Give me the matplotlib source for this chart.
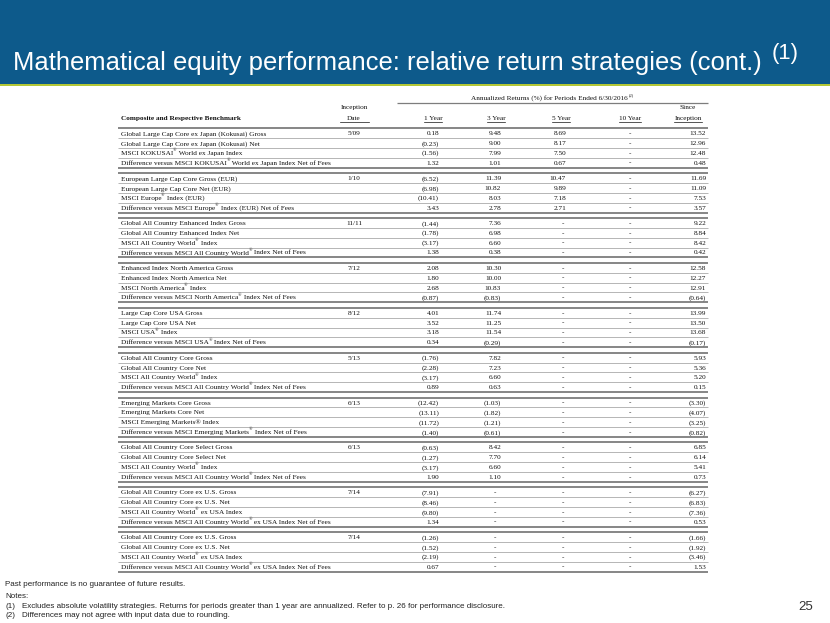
import matplotlib
matplotlib.use("Agg")
import matplotlib.pyplot as plt
from matplotlib.patches import Rectangle

# ---------------- data ----------------
TITLE = "Mathematical equity performance: relative return strategies (cont.)"
TITLE_NOTE = "(1)"

S = "^®"  # superscript registered mark marker
labels = [
    "Global Large Cap Core ex Japan (Kokusai) Gross",
    "Global Large Cap Core ex Japan (Kokusai) Net",
    "MSCI KOKUSAI" + S + " World ex Japan Index",
    "Difference versus MSCI KOKUSAI" + S + " World ex Japan Index Net of Fees",
    "European Large Cap Core Gross (EUR)",
    "European Large Cap Core Net (EUR)",
    "MSCI Europe" + S + " Index (EUR)",
    "Difference versus MSCI Europe" + S + " Index (EUR) Net of Fees",
    "Global All Country Enhanced Index Gross",
    "Global All Country Enhanced Index Net",
    "MSCI All Country World" + S + " Index",
    "Difference versus MSCI All Country World" + S + " Index Net of Fees",
    "Enhanced Index North America Gross",
    "Enhanced Index North America Net",
    "MSCI North America" + S + " Index",
    "Difference versus MSCI North America" + S + " Index Net of Fees",
    "Large Cap Core USA Gross",
    "Large Cap Core USA Net",
    "MSCI USA" + S + " Index",
    "Difference versus MSCI USA" + S + " Index Net of Fees",
    "Global All Country Core Gross",
    "Global All Country Core Net",
    "MSCI All Country World" + S + " Index",
    "Difference versus MSCI All Country World" + S + " Index Net of Fees",
    "Emerging Markets Core Gross",
    "Emerging Markets Core Net",
    "MSCI Emerging Markets® Index",
    "Difference versus MSCI Emerging Markets" + S + " Index Net of Fees",
    "Global All Country Core Select Gross",
    "Global All Country Core Select Net",
    "MSCI All Country World" + S + " Index",
    "Difference versus MSCI All Country World" + S + " Index Net of Fees",
    "Global All Country Core ex U.S. Gross",
    "Global All Country Core ex U.S. Net",
    "MSCI All Country World" + S + " ex USA Index",
    "Difference versus MSCI All Country World" + S + " ex USA Index Net of Fees",
    "Global All Country Core ex U.S. Gross",
    "Global All Country Core ex U.S. Net",
    "MSCI All Country World" + S + " ex USA Index",
    "Difference versus MSCI All Country World" + S + " ex USA Index Net of Fees",
]

inception = ["5/09", "1/10", "11/11", "7/12", "8/12", "5/13", "6/13", "6/13", "7/14", "7/14"]

one_year = [0.18, -0.23, -1.56, 1.32,
            -6.52, -6.98, -10.41, 3.43,
            -1.44, -1.78, -3.17, 1.38,
            2.08, 1.80, 2.68, -0.87,
            4.01, 3.52, 3.18, 0.34,
            -1.76, -2.28, -3.17, 0.89,
            -12.42, -13.11, -11.72, -1.40,
            -0.63, -1.27, -3.17, 1.90,
            -7.91, -8.46, -9.80, 1.34,
            -1.26, -1.52, -2.19, 0.67]

three_year = [9.48, 9.00, 7.99, 1.01,
              11.39, 10.82, 8.03, 2.78,
              7.36, 6.98, 6.60, 0.38,
              10.30, 10.00, 10.83, -0.83,
              11.74, 11.25, 11.54, -0.29,
              7.82, 7.23, 6.60, 0.63,
              -1.03, -1.82, -1.21, -0.61,
              8.42, 7.70, 6.60, 1.10,
              None, None, None, None,
              None, None, None, None]

five_year = [8.69, 8.17, 7.50, 0.67,
             10.47, 9.89, 7.18, 2.71] + [None] * 32

ten_year = [None] * 40

since_inception = [13.52, 12.96, 12.48, 0.48,
                   11.69, 11.09, 7.53, 3.57,
                   9.22, 8.84, 8.42, 0.42,
                   12.58, 12.27, 12.91, -0.64,
                   13.99, 13.50, 13.68, -0.17,
                   5.93, 5.36, 5.20, 0.15,
                   -3.30, -4.07, -3.25, -0.82,
                   6.85, 6.14, 5.41, 0.73,
                   -6.27, -6.83, -7.36, 0.53,
                   -1.66, -1.92, -3.46, 1.53]

col_headers = ["1 Year", "3 Year", "5 Year", "10 Year"]
super_header = "Annualized Returns (%) for Periods Ended 6/30/2016"
super_header_note = "(2)"
footer_lines = [
    "Past performance is no guarantee of future results.",
    "Notes:",
]
notes = [
    ("(1)", "Excludes absolute volatility strategies. Returns for periods greater than 1 year are annualized. Refer to p. 26 for performance disclosure."),
    ("(2)", "Differences may not agree with input data due to rounding."),
]
page_number = "25"

# ---------------- layout / style ----------------
W, H = 830, 623
BLUE = "#0d5a8b"
GREEN = "#b3c736"
SERIF = "Liberation Serif"
SANS = "Liberation Sans"
TFS = 5.25         # table font size
TXT = "#111111"
THICK = "#7d7d7d"
THIN = "#a9a9a9"

X0, X1 = 118, 708
LABEL_X = 121
INC_X = 354
value_cols = [  # (values, right edge, dash centre)
    (one_year, 439, 433),
    (three_year, 501, 495),
    (five_year, 566, 563),
    (ten_year, 636, 630),
    (since_inception, 706, 700),
]
header_x = [433, 496, 561, 630]
G0, GP, RP = 133.3, 44.88, 9.8

fig = plt.figure(figsize=(W / 100, H / 100), dpi=100)
ax = fig.add_axes([0, 0, 1, 1])
ax.set_xlim(0, W)
ax.set_ylim(H, 0)
ax.axis("off")
rend = fig.canvas.get_renderer()


def ext(t):
    bb = t.get_window_extent(renderer=rend)
    return bb.x0, bb.x1


def fit(t, target):
    x0, x1 = ext(t)
    t.set_fontsize(t.get_fontsize() * target / (x1 - x0))


def fmt(v):
    if v is None:
        return "-"
    return f"({abs(v):.2f})" if v < 0 else f"{v:.2f}"


def rich(x, y, s, fs, **kw):
    parts = s.split(S)
    cx = x
    for k, p in enumerate(parts):
        if p:
            t = ax.text(cx, y, p, family=SERIF, fontsize=fs, color=TXT,
                        va="center_baseline", **kw)
            cx = ext(t)[1]
        if k < len(parts) - 1:
            t = ax.text(cx - 0.5, y - 2.7, "®", family=SERIF, fontsize=fs * 0.62,
                        color=TXT, va="center_baseline")
            cx = ext(t)[1] + 0.6


# title band
ax.add_patch(Rectangle((0, 0), W, 84, color=BLUE, lw=0))
ax.add_patch(Rectangle((0, 84), W, 2.2, color=GREEN, lw=0))
tt = ax.text(13, 70, TITLE, color="white", family=SANS, fontsize=17, va="baseline")
fit(tt, 752)
_, tx1 = ext(tt)
ax.text(tx1 + 10, 59.5, TITLE_NOTE, color="white", family=SANS,
        fontsize=tt.get_fontsize() * 0.86, va="baseline")

# header
th = ax.text(549, 97, super_header, family=SERIF, fontsize=TFS,
             color=TXT, ha="center", va="center_baseline")
_, hx1 = ext(th)
ax.text(hx1 + 1, 94.5, super_header_note, family=SERIF, fontsize=TFS * 0.62,
        color=TXT, va="center_baseline")
ax.plot([397, X1], [103, 103], color=THICK, lw=0.9, solid_capstyle="butt")
ax.text(LABEL_X, 118, "Composite and Respective Benchmark", family=SERIF, fontsize=TFS,
        weight="bold", color=TXT, va="center_baseline")
ax.text(INC_X, 107, "Inception", family=SERIF, fontsize=TFS, color=TXT,
        ha="center", va="center_baseline")
ax.text(INC_X, 118, "Date", family=SERIF, fontsize=TFS, color=TXT,
        ha="center", va="center_baseline")
ax.plot([INC_X - 14, INC_X + 15], [122, 122], color=TXT, lw=0.5)
for hx, h in zip(header_x, col_headers):
    t = ax.text(hx, 118, h, family=SERIF, fontsize=TFS, color=TXT,
                ha="center", va="center_baseline")
    a, b = ext(t)
    ax.plot([a, b], [122, 122], color=TXT, lw=0.5)
ax.text(688, 107, "Since", family=SERIF, fontsize=TFS, color=TXT,
        ha="center", va="center_baseline")
t = ax.text(688, 118, "Inception", family=SERIF, fontsize=TFS, color=TXT,
            ha="center", va="center_baseline")
a, b = ext(t)
ax.plot([a, b], [122, 122], color=TXT, lw=0.5)

# table body
n_groups = len(labels) // 4
for g in range(n_groups):
    gy = G0 + GP * g
    ax.plot([X0, X1], [gy - 5, gy - 5], color=THICK, lw=1.3, solid_capstyle="butt")
    for r in range(3):
        yl = gy + RP * r + 4.9
        ax.plot([X0, X1], [yl, yl], color=THIN, lw=0.6, solid_capstyle="butt")
    yb = gy + RP * 3 + 5
    ax.plot([X0, X1], [yb, yb], color=THICK, lw=1.3, solid_capstyle="butt")
    ax.text(INC_X, gy, inception[g], family=SERIF, fontsize=TFS, color=TXT,
            ha="center", va="center_baseline")
    for r in range(4):
        i = g * 4 + r
        y = gy + RP * r
        rich(LABEL_X, y, labels[i], TFS)
        for vals, xr, xd in value_cols:
            v = vals[i]
            if v is None:
                ax.text(xd, y, "-", family=SERIF, fontsize=TFS, color=TXT,
                        ha="center", va="center_baseline")
            else:
                ax.text(xr, y, fmt(v), family=SERIF, fontsize=TFS, color=TXT,
                        ha="right", va="center_baseline")

# footer
FFS = 5.8
FC = "#222222"
ax.text(5, 583, footer_lines[0], family=SANS, fontsize=FFS, color=FC, va="center_baseline")
ax.text(5, 595.5, footer_lines[1], family=SANS, fontsize=FFS, color=FC, va="center_baseline")
for k, (num, txt) in enumerate(notes):
    y = 605 + 9.5 * k
    ax.text(5, y, num, family=SANS, fontsize=FFS, color=FC, va="center_baseline")
    ax.text(22, y, txt, family=SANS, fontsize=FFS, color=FC, va="center_baseline")
ax.text(813, 606, page_number, family=SANS, fontsize=9.5, color="#333333",
        ha="right", va="center_baseline")

fig.savefig("out.png", dpi=100)
